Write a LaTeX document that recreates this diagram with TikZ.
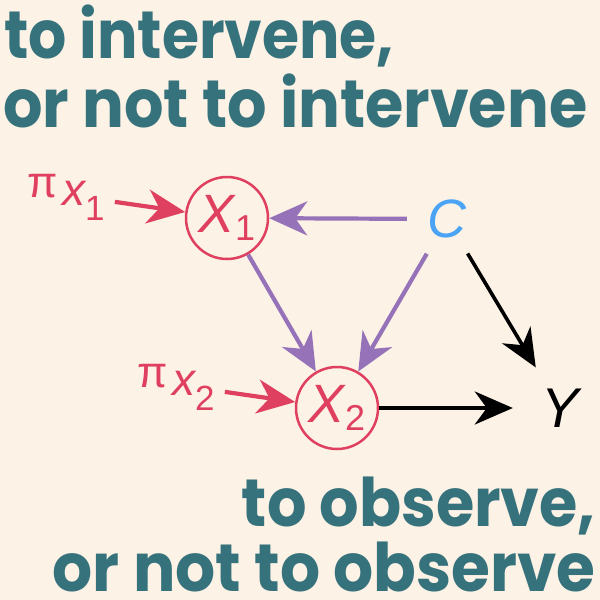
\documentclass[tikz,border=0pt]{standalone}
\usepackage{fontspec}
\usepackage{graphicx}
\usetikzlibrary{arrows.meta}
\setmainfont{Poppins}
\newfontfamily\mf{Liberation Sans}
\definecolor{bgc}{HTML}{FCF2E6}
\definecolor{tealc}{HTML}{36727C}
\definecolor{redc}{HTML}{E04060}
\definecolor{purc}{HTML}{9672B8}
\definecolor{bluec}{HTML}{4AA3F4}
\newcommand\Xlab[1]{{\mf\fontsize{54}{54}\selectfont\itshape X}{\mf\raisebox{-8pt}{\fontsize{36}{36}\selectfont #1}}}
\newcommand\pilab[1]{\mf\makebox[35pt][l]{\raisebox{8pt}{\fontsize{44}{44}\selectfont π}}{\itshape\fontsize{46}{46}\selectfont x}\raisebox{-15pt}{\fontsize{35}{35}\selectfont #1}}
\begin{document}
\begin{tikzpicture}[x=1pt,y=-1pt,
  title/.style={text=tealc, inner sep=0pt, font=\bfseries\fontsize{67}{67}\selectfont},
  vnode/.style={circle, draw=redc, line width=2.5pt, minimum size=82pt, inner sep=0pt, text=redc},
  pinode/.style={inner sep=0pt, text=redc, anchor=base west},
  redarr/.style={draw=redc, line width=4.2pt, -{Stealth[length=38pt,width=34pt,inset=12pt]}},
  purarr/.style={draw=purc, line width=4.2pt, -{Stealth[length=38pt,width=34pt,inset=12pt]}},
  blkarr/.style={draw=black, line width=3.6pt, -{Stealth[length=38pt,width=33pt,inset=12pt]}}
]
\fill[bgc] (0,0) rectangle (600,600);
\useasboundingbox (0,0) rectangle (600,600);

\node[title, anchor=base west] (t1) at (4,58) {\resizebox{390pt}{\height}{to intervene,}};
\node[title, anchor=base west] (t2) at (3,127) {\resizebox{584pt}{\height}{or not to intervene}};
\node[title, anchor=base east] (b1) at (596,526) {\resizebox{354pt}{\height}{to observe,}};
\node[title, anchor=base east] (b2) at (596,591) {\resizebox{543pt}{\height}{or not to observe}};

\node[vnode] (X1) at (227,218) {\Xlab{1}};
\node[vnode] (X2) at (337,408) {\Xlab{2}};
\node[circle, inner sep=0pt, minimum size=80pt, text=bluec] (C) at (447,219) {\mf\fontsize{54}{54}\selectfont\itshape C};
\node[circle, inner sep=0pt, minimum size=94pt, text=black] (Y) at (560,408) {\mf\fontsize{56}{56}\selectfont\itshape Y};
\node[pinode] (pix1) at (27,205) {\pilab{1}};
\node[pinode] (pix2) at (137,395) {\pilab{2}};

\draw[redarr] ([shift={(10pt,-5pt)}]pix1.east) -- (X1);
\draw[redarr] ([shift={(10pt,-5pt)}]pix2.east) -- (X2);
\draw[purarr] (C) -- (X1);
\draw[purarr] (X1) -- (X2);
\draw[purarr] (C) -- (X2);
\draw[blkarr] (C) -- (Y);
\draw[blkarr] (X2) -- (Y);
\end{tikzpicture}
\end{document}
